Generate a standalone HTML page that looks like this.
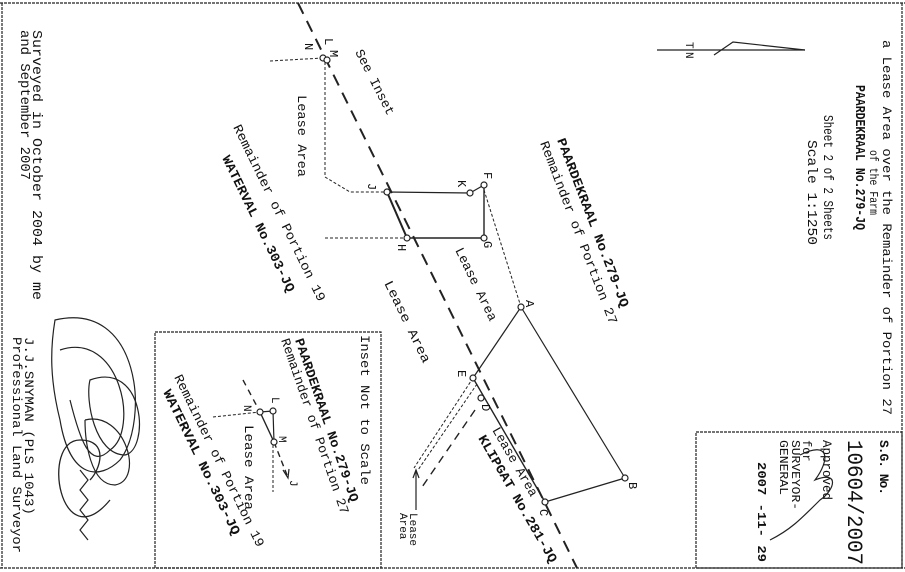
<!DOCTYPE html>
<html><head><meta charset="utf-8"><style>
html,body{margin:0;padding:0;background:#fff;}
svg{display:block;}
text{font-family:"Liberation Mono",monospace;fill:#111;}
.b{font-weight:bold;}
</style></head><body>
<svg width="905" height="572" viewBox="0 0 905 572" xmlns="http://www.w3.org/2000/svg">
<g stroke="#222" fill="none" stroke-width="1.2">
<line x1="0" y1="3" x2="905" y2="3" stroke-dasharray="3,1"/>
<line x1="0" y1="568" x2="905" y2="568" stroke-dasharray="3,1"/>
<line x1="2" y1="3" x2="2" y2="568" stroke-dasharray="3,1"/>
<line x1="902" y1="3" x2="902" y2="568" stroke-dasharray="3,1"/>
<rect x="155" y="332" width="226" height="236" stroke-dasharray="3,1"/>
<rect x="696" y="432" width="206" height="136" stroke-dasharray="3,1"/>
<line x1="657" y1="50" x2="805" y2="50"/>
<polyline points="714,55 733,42 805,50"/>
<line x1="298" y1="3" x2="577" y2="568" stroke-width="2" stroke-dasharray="12,8"/>
<polyline points="270,61 323,58" stroke-dasharray="3,2" stroke-width="1"/>
<polyline points="325,62 325,177 350,192 387,192" stroke-dasharray="3,2" stroke-width="1"/>
<line x1="325" y1="238" x2="407" y2="238" stroke-dasharray="3,2" stroke-width="1"/>
<polyline points="387,192 470,193" />
<line x1="470" y1="193" x2="484" y2="185"/>
<polyline points="484,185 484,238 407,238 387,192" stroke-width="1.4"/>
<line x1="387" y1="192" x2="407" y2="238" stroke-width="2"/>
<line x1="484" y1="190" x2="521" y2="307" stroke-dasharray="3,2" stroke-width="1"/>
<line x1="521" y1="307" x2="473" y2="378"/>
<line x1="521" y1="307" x2="625" y2="478"/>
<line x1="625" y1="478" x2="545" y2="502"/>
<line x1="473" y1="378" x2="545" y2="502" stroke-width="1.4"/>
<line x1="473" y1="378" x2="414" y2="468" stroke-dasharray="3,2" stroke-width="1"/>
<line x1="477" y1="384" x2="418" y2="470" stroke-dasharray="3,2" stroke-width="1"/>
<line x1="475" y1="410" x2="420" y2="490" stroke-dasharray="8,6" stroke-width="1.4"/>
<line x1="416" y1="510" x2="416" y2="470"/>
<polyline points="413,478 416,470 419,478"/>
<line x1="243" y1="380" x2="260" y2="412" stroke-dasharray="6,5" stroke-width="1.4"/>
<line x1="213" y1="417" x2="260" y2="412" stroke-dasharray="3,2" stroke-width="1"/>
<line x1="260" y1="412" x2="273" y2="411"/>
<line x1="273" y1="411" x2="274" y2="442"/>
<line x1="260" y1="412" x2="274" y2="442" stroke-width="1.4"/>
<line x1="274" y1="442" x2="287" y2="475" stroke-dasharray="6,4" stroke-width="1.4"/>
<polyline points="283,470 288,478 289,469"/>
<line x1="273" y1="445" x2="273" y2="492" stroke-dasharray="3,2" stroke-width="1"/>
<path d="M110,500 C60,560 40,440 80,440 C110,440 100,470 90,480" stroke-width="1.3"/>
<path d="M55,320 C140,300 150,420 120,460 C100,480 70,480 60,420 C50,380 50,350 55,320 Z" stroke-width="1.2"/>
<path d="M60,350 C120,330 140,430 110,450 C90,470 80,440 70,400" stroke-width="1.2"/>
<path d="M90,380 C145,360 150,450 125,455 C95,455 85,400 90,380 Z" stroke-width="1.2"/>
<path d="M85,420 C125,410 145,480 115,485 C90,485 85,440 85,420" stroke-width="1.2"/>
<path d="M80,470 L88,480 L80,490 L88,500 L80,510 L88,520 L80,530 L88,540" stroke-width="1.2"/>
<path d="M800,455 C830,440 830,460 815,480 C840,470 835,490 820,500 C800,520 790,530 770,540" stroke-width="1.2"/>
</g>
<g fill="#fff" stroke="#222" stroke-width="1.2">
<circle cx="323" cy="58" r="3"/><circle cx="327" cy="60" r="3"/>
<circle cx="387" cy="192" r="3"/><circle cx="470" cy="193" r="3"/>
<circle cx="484" cy="185" r="3"/><circle cx="484" cy="238" r="3"/>
<circle cx="407" cy="238" r="3"/><circle cx="521" cy="307" r="3"/>
<circle cx="473" cy="378" r="3"/><circle cx="481" cy="398" r="3"/>
<circle cx="545" cy="502" r="3"/><circle cx="625" cy="478" r="3"/>
<circle cx="260" cy="412" r="3"/><circle cx="273" cy="411" r="3"/><circle cx="274" cy="442" r="3"/>
</g>
<g font-size="13">
<text transform="translate(883,40) rotate(90)" textLength="375" lengthAdjust="spacingAndGlyphs">a Lease Area over the Remainder of Portion 27</text>
<text transform="translate(870,150) rotate(90)" font-size="12" textLength="65" lengthAdjust="spacingAndGlyphs">of the Farm</text>
<text class="b" transform="translate(856,85) rotate(90)" font-size="14" textLength="145" lengthAdjust="spacingAndGlyphs">PAARDEKRAAL No.279-JQ</text>
<text transform="translate(824,115) rotate(90)" font-size="14" textLength="125" lengthAdjust="spacingAndGlyphs">Sheet 2 of 2 Sheets</text>
<text transform="translate(808,140) rotate(90)" font-size="14" textLength="105" lengthAdjust="spacingAndGlyphs">Scale 1:1250</text>
<text class="b" transform="translate(880,440) rotate(90)" textLength="55">S.G. No.</text>
<text transform="translate(848,440) rotate(90)" font-size="22" textLength="125" lengthAdjust="spacingAndGlyphs">10604/2007</text>
<text transform="translate(823,440) rotate(90)" textLength="60" lengthAdjust="spacingAndGlyphs">Approved</text>
<text transform="translate(803,440) rotate(90)" font-size="12">for</text>
<text transform="translate(792,440) rotate(90)" font-size="12" textLength="70" lengthAdjust="spacingAndGlyphs">SURVEYOR-</text>
<text transform="translate(780,440) rotate(90)" font-size="12" textLength="55" lengthAdjust="spacingAndGlyphs">GENERAL</text>
<text class="b" transform="translate(758,462) rotate(90)" font-size="12" textLength="100" lengthAdjust="spacingAndGlyphs">2007 -11- 29</text>
<text transform="translate(686,42) rotate(90)" font-size="11">T</text>
<text transform="translate(686,52) rotate(90)" font-size="11">N</text>
<text transform="translate(33,30) rotate(90)" font-size="14" textLength="270" lengthAdjust="spacingAndGlyphs">Surveyed in October 2004   by me</text>
<text transform="translate(21,30) rotate(90)" font-size="14" textLength="150" lengthAdjust="spacingAndGlyphs">and September 2007</text>
<text transform="translate(25,337) rotate(90)" textLength="178" lengthAdjust="spacingAndGlyphs">J.J.SNYMAN (PLS 1043)</text>
<text transform="translate(13,337) rotate(90)" textLength="216" lengthAdjust="spacingAndGlyphs">Professional Land Surveyor</text>
<text transform="translate(298,95) rotate(90)" textLength="82" lengthAdjust="spacingAndGlyphs">Lease Area</text>
<text transform="translate(361,335) rotate(90)" textLength="150" lengthAdjust="spacingAndGlyphs">Inset Not to Scale</text>
<text transform="translate(245,425) rotate(90)" textLength="85" lengthAdjust="spacingAndGlyphs">Lease Area</text>
<text transform="translate(410,513) rotate(90)" font-size="11">Lease</text>
<text transform="translate(400,513) rotate(90)" font-size="11">Area</text>
</g>
<g font-size="13">
<text transform="translate(355,52) rotate(63)" textLength="72" lengthAdjust="spacingAndGlyphs">See Inset</text>
<text transform="translate(233,127) rotate(64)" textLength="195" lengthAdjust="spacingAndGlyphs">Remainder of Portion 19</text>
<text class="b" transform="translate(222,158) rotate(64)" textLength="150" lengthAdjust="spacingAndGlyphs">WATERVAL No.303-JQ</text>
<text class="b" transform="translate(557,140) rotate(69)" textLength="180" lengthAdjust="spacingAndGlyphs">PAARDEKRAAL No.279-JQ</text>
<text transform="translate(540,143) rotate(69)" textLength="195" lengthAdjust="spacingAndGlyphs">Remainder of Portion 27</text>
<text transform="translate(455,250) rotate(64)" textLength="80" lengthAdjust="spacingAndGlyphs">Lease Area</text>
<text transform="translate(384,283) rotate(64)" textLength="90" lengthAdjust="spacingAndGlyphs">Lease Area</text>
<text transform="translate(492,430) rotate(60)" textLength="78" lengthAdjust="spacingAndGlyphs">Lease Area</text>
<text class="b" transform="translate(478,438) rotate(60)" textLength="145" lengthAdjust="spacingAndGlyphs">KLIPGAT No.281-JQ</text>
<text class="b" transform="translate(295,340) rotate(71)" textLength="172" lengthAdjust="spacingAndGlyphs">PAARDEKRAAL No.279-JQ</text>
<text transform="translate(281,340) rotate(71)" textLength="185" lengthAdjust="spacingAndGlyphs">Remainder of Portion 27</text>
<text transform="translate(174,377) rotate(64)" textLength="190" lengthAdjust="spacingAndGlyphs">Remainder of Portion 19</text>
<text class="b" transform="translate(163,392) rotate(64)" textLength="160" lengthAdjust="spacingAndGlyphs">WATERVAL No.303-JQ</text>
</g>
<g font-size="12">
<text transform="translate(305,43) rotate(90)">N</text>
<text transform="translate(325,38) rotate(90)">L</text>
<text transform="translate(330,50) rotate(90)">M</text>
<text transform="translate(368,183) rotate(90)">J</text>
<text transform="translate(458,180) rotate(90)">K</text>
<text transform="translate(484,172) rotate(90)">F</text>
<text transform="translate(484,241) rotate(90)">G</text>
<text transform="translate(398,244) rotate(90)">H</text>
<text transform="translate(526,300) rotate(90)">A</text>
<text transform="translate(458,370) rotate(90)">E</text>
<text transform="translate(482,404) rotate(90)">D</text>
<text transform="translate(540,509) rotate(90)">C</text>
<text transform="translate(629,482) rotate(90)">B</text>
<text transform="translate(244,405) rotate(90)" font-size="11">N</text>
<text transform="translate(272,397) rotate(90)" font-size="11">L</text>
<text transform="translate(279,436) rotate(90)" font-size="11">M</text>
<text transform="translate(290,480) rotate(90)" font-size="11">J</text>
</g>
</svg>
</body></html>
